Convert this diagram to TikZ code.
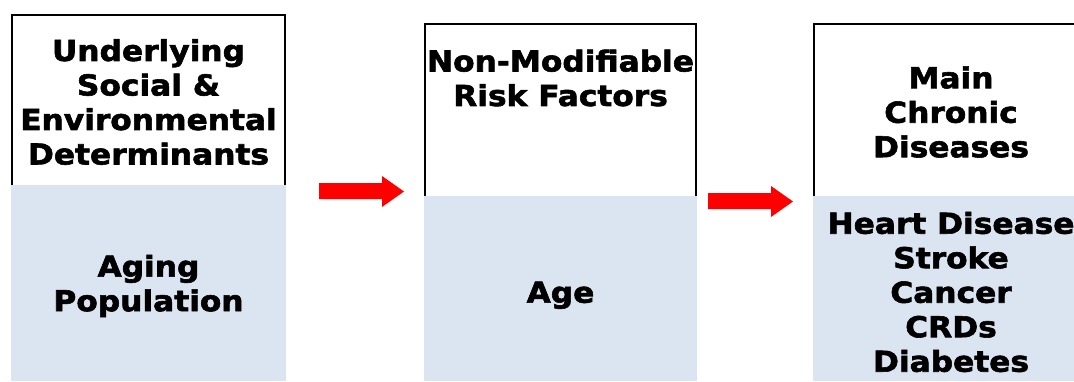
\documentclass[tikz,border=0pt]{standalone}
\usepackage{fontspec}
\setmainfont{DejaVu Sans}[BoldFeatures={FakeStretch=1.085,FakeBold=2}]
\definecolor{paleblue}{RGB}{219,229,241}
\definecolor{arrowred}{RGB}{255,0,0}
\tikzset{
  headbox/.style={draw=black,line width=1.3pt},
  bodybox/.style={fill=paleblue,draw=none},
  lbl/.style={align=center,inner sep=0pt,font=\bfseries\fontsize{28.8}{34.5}\selectfont},
  redarrow/.style={fill=arrowred,draw=none}
}
\begin{document}
\begin{tikzpicture}[x=1pt,y=-1pt]
\useasboundingbox (0,0) rectangle (1074,381);
\clip (0,0) rectangle (1074,381);
% column 1
\draw[headbox] (12,185) -- (12,15) -- (285,15) -- (285,185);
\fill[bodybox] (11.35,185) rectangle (285.65,381);
\node[lbl] (c1top) at (148.5,102) {Underlying\\Social \&\\Environmental\\Determinants};
\node[lbl] (c1bot) at (148.5,286) {Aging\\Population};
% column 2
\draw[headbox] (425,196) -- (425,24) -- (696,24) -- (696,196);
\fill[bodybox] (424.35,196) rectangle (696.65,381);
\node[lbl] (c2top) at (560.5,78) {Non-Modifiable\\Risk Factors};
\node[lbl,anchor=base] (c2bot) at (560.5,302.7) {Age};
% column 3
\draw[headbox] (814,196) -- (814,24) -- (1090,24);
\fill[bodybox] (813.35,196) rectangle (1090,381);
\node[lbl] (c3top) at (951,112) {Main\\Chronic\\Diseases};
\node[lbl] (c3bot) at (951,292) {Heart Disease\\Stroke\\Cancer\\CRDs\\Diabetes};
% arrows
\fill[redarrow] (319,183) -- (382,183) -- (382,176) -- (404,191.5) -- (382,207) -- (382,199) -- (319,199) -- cycle;
\fill[redarrow] (708,193) -- (771,193) -- (771,186) -- (793,201.5) -- (771,217) -- (771,209) -- (708,209) -- cycle;
\end{tikzpicture}
\end{document}
